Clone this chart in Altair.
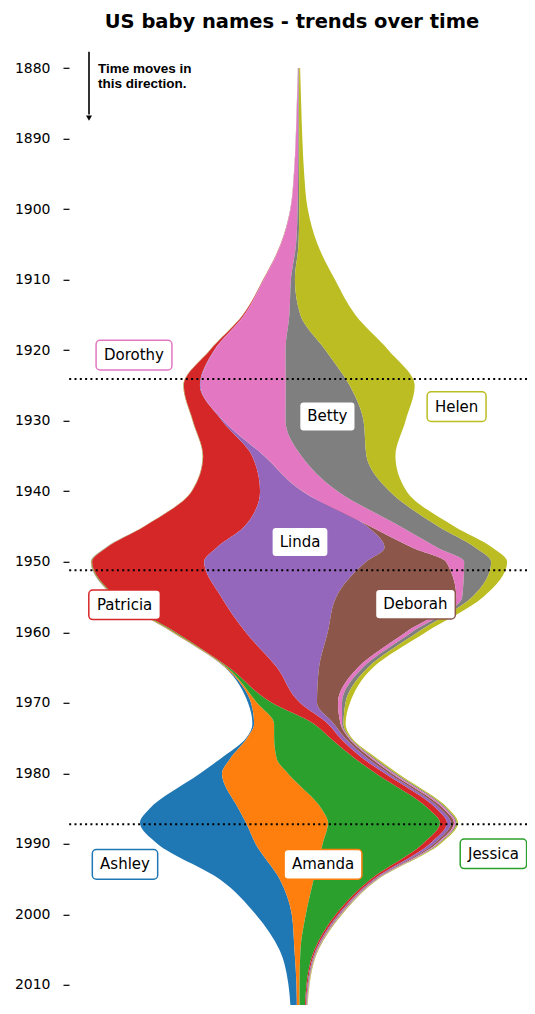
import altair as alt
import pandas as pd

# ---------------- data (thousands of births) ----------------
years = [1880, 1885, 1890, 1895, 1900, 1905, 1910, 1915, 1920, 1925, 1930, 1935,
         1940, 1945, 1948, 1950, 1955, 1960, 1965, 1970, 1973, 1975, 1978, 1980,
         1985, 1987, 1990, 1995, 2000, 2005, 2010, 2015]

names = ["Ashley", "Amanda", "Jessica", "Patricia", "Linda", "Deborah",
         "Dorothy", "Betty", "Helen"]
colors = ["#1f77b4", "#ff7f0e", "#2ca02c", "#d62728", "#9467bd", "#8c564b",
          "#e377c2", "#7f7f7f", "#bcbd22"]

ashley = [0, 0, 0, 0, 0, 0, 0, 0, 0, 0, 0, 0, 0, 0,
          0.15, 0.15, 0.25, 0.25, 0.35, 1.5, 0.85, 0.5, 5, 11,
          44.5, 53, 49, 30, 18, 7.5, 4, 3]
amanda = [0, 0, 0, 0, 0, 0.03, 0.05, 0.1, 0.15, 0.15, 0.15, 0.15, 0.15, 0.2,
          0.2, 0.25, 0.5, 0.75, 0.65, 3, 10, 13.5, 23.5, 33,
          41.5, 41, 33.5, 17, 7, 3, 1.5, 1.25]
jessica = [0.03, 0.05, 0.05, 0.05, 0.05, 0.05, 0.05, 0.1, 0.15, 0.15, 0.15, 0.15, 0.15, 0.2,
           0.2, 0.25, 0.5, 0.75, 1, 7.5, 20, 28, 39.5, 44,
           53.5, 56, 50, 28.5, 15, 7, 3.5, 2.5]
patricia = [0.03, 0.05, 0.05, 0.08, 0.1, 0.15, 0.25, 0.6, 2, 8, 14.5, 24.5, 34, 50,
            55, 56, 52, 35, 24, 14, 7, 5, 4, 4.5,
            4, 3.5, 3.5, 1.5, 1.25, 0.75, 0.5, 0.4]
linda = [0.03, 0.03, 0.03, 0.03, 0.03, 0.05, 0.05, 0.1, 0.2, 0.4, 0.75, 6, 21, 61.5,
         84, 81, 57.5, 41, 21, 8.5, 3, 2.5, 2.5, 2,
         2, 2, 2, 0.75, 0.6, 0.4, 0.3, 0.25]
deborah = [0, 0, 0, 0, 0, 0, 0, 0, 0, 0, 0, 0.15, 0.25, 1.5,
           14, 40, 60, 39, 19.5, 10.5, 3.25, 1.75, 1.75, 1.5,
           1.5, 1.5, 1.25, 0.5, 0.4, 0.25, 0.2, 0.15]
dorothy = [0.3, 0.7, 1.25, 2, 3.5, 7.5, 13.5, 22.5, 35.5, 42.5, 31, 18.5, 17.5, 15,
           12.5, 9, 3, 3, 2.5, 2, 0.75, 0.5, 0.9, 1,
           1, 0.75, 0.75, 0.35, 0.3, 0.2, 0.15, 0.15]
betty = [0.25, 0.25, 0.35, 0.5, 0.8, 1.25, 2, 5.5, 20, 32, 39, 32.5, 26, 19,
         19, 13.5, 5, 3, 2.5, 1.75, 0.75, 0.5, 0.9, 1,
         0.75, 0.6, 0.6, 0.3, 0.3, 0.2, 0.15, 0.15]
helen = [0.5, 1.1, 1.6, 2.5, 4.25, 9.5, 20, 27.5, 31.5, 32.5, 21, 14.5, 8.5, 8,
         8.5, 8, 5.5, 4, 2.5, 2.25, 1, 0.6, 1.1, 1,
         0.75, 0.65, 0.75, 0.35, 0.35, 0.25, 0.2, 0.15]

series = [ashley, amanda, jessica, patricia, linda, deborah, dorothy, betty, helen]

# label anchors (x in thousands from the centre line, y in years)
label_names = ["Dorothy", "Betty", "Helen", "Linda", "Patricia", "Deborah",
               "Ashley", "Amanda", "Jessica"]
label_x = [-82.5, 14.2, 78.8, 0.5, -87.2, 58.2, -87.0, 12.0, 97.2]
label_y = [1920.7, 1929.4, 1928.0, 1947.2, 1956.1, 1956.0, 1992.9, 1992.9, 1991.4]

marker_years = [1924.1, 1951.2, 1987.2]
note_lines = ["Time moves in", "this direction."]

# ---------------- layout constants ----------------
W, H = 458, 965.3
XDOM = [-115, 114]
YDOM = [1876, 2012.85]
px_x = W / (XDOM[1] - XDOM[0])
px_y = H / (YDOM[1] - YDOM[0])

rows = []
for k, (nm, vals) in enumerate(zip(names, series)):
    for yr, v in zip(years, vals):
        rows.append({"year": yr, "name": nm, "order": k, "value": v})
df = pd.DataFrame(rows)

xscale = alt.Scale(domain=XDOM, nice=False, zero=False)
yscale = alt.Scale(domain=YDOM, reverse=True, nice=False, zero=False)
cscale = alt.Scale(domain=names, range=colors)

yaxis = alt.Axis(values=list(range(1880, 2011, 10)), format="d", title=None,
                 domain=False, grid=False, ticks=True, tickSize=6, tickWidth=1.2,
                 tickColor="black", labelFont="DejaVu Sans", labelFontSize=14,
                 labelColor="black", labelPadding=13)

stream = alt.Chart(df).transform_stack(
    stack="value", groupby=["year"], as_=["s0", "s1"],
    sort=[alt.SortField(field="order", order="ascending")], offset="zero"
).transform_joinaggregate(
    total="sum(value)", groupby=["year"]
).transform_calculate(
    lo="datum.s0 - datum.total / 2", hi="datum.s1 - datum.total / 2"
).mark_area(orient="horizontal", interpolate="monotone", clip=True).encode(
    y=alt.Y("year:Q", scale=yscale, axis=yaxis),
    x=alt.X("lo:Q", scale=xscale, axis=None, stack=None),
    x2="hi:Q",
    color=alt.Color("name:N", scale=cscale, legend=None),
    order=alt.Order("order:Q"),
)

rules = alt.Chart(pd.DataFrame({"yr": marker_years})).mark_rule(
    color="black", strokeWidth=2, strokeDash=[2, 3.3]
).encode(y=alt.Y("yr:Q", scale=yscale))

# arrow annotation
arrow_df = pd.DataFrame({"x": [-105.0], "y0": [1877.7], "y1": [1886.6], "yh": [1887.1]})
arrow_line = alt.Chart(arrow_df).mark_rule(color="black", strokeWidth=1.6).encode(
    x=alt.X("x:Q", scale=xscale), y=alt.Y("y0:Q", scale=yscale), y2="y1:Q")
arrow_head = alt.Chart(arrow_df).mark_point(
    shape="triangle-down", filled=True, color="black", size=36, opacity=1
).encode(x=alt.X("x:Q", scale=xscale), y=alt.Y("yh:Q", scale=yscale))

note_df = pd.DataFrame({"t": note_lines, "x": [-100.5, -100.5], "y": [1880.71, 1882.85]})
note = alt.Chart(note_df).mark_text(
    align="left", baseline="alphabetic", font="Liberation Sans", fontWeight="bold",
    fontSize=13.5, color="black"
).encode(x=alt.X("x:Q", scale=xscale), y=alt.Y("y:Q", scale=yscale), text="t:N")

# label boxes sized from text length (DejaVu Sans advance widths, em units)
adv = {"A": .684, "B": .686, "D": .770, "H": .752, "J": .295, "L": .557, "P": .603,
       "a": .613, "b": .635, "c": .550, "d": .635, "e": .615, "h": .634, "i": .278,
       "l": .278, "m": .974, "n": .634, "o": .612, "r": .411, "s": .521, "t": .392,
       "y": .592}
FS = 15
lab = pd.DataFrame({"name": label_names, "x": label_x, "y": label_y})
lab["wpx"] = [sum(adv.get(c, .6) for c in s) * FS + 15.5 for s in label_names]
lab["x0"] = lab["x"] - lab["wpx"] / 2 / px_x
lab["x1"] = lab["x"] + lab["wpx"] / 2 / px_x
lab["y0"] = lab["y"] - 14.8 / px_y
lab["y1"] = lab["y"] + 14.8 / px_y

boxes = alt.Chart(lab).mark_rect(cornerRadius=4, fill="white", strokeWidth=1.5).encode(
    x=alt.X("x0:Q", scale=xscale), x2="x1:Q",
    y=alt.Y("y0:Q", scale=yscale), y2="y1:Q",
    stroke=alt.Stroke("name:N", scale=cscale, legend=None),
)
texts = alt.Chart(lab).mark_text(
    font="DejaVu Sans", fontSize=FS, color="black", align="center", baseline="middle"
).encode(x=alt.X("x:Q", scale=xscale), y=alt.Y("y:Q", scale=yscale), text="name:N")

chart = alt.layer(stream, rules, arrow_line, arrow_head, note, boxes, texts).properties(
    width=W, height=H, background="white",
    title=alt.TitleParams("US baby names - trends over time", font="DejaVu Sans",
                          fontSize=19.5, fontWeight="bold", color="black",
                          anchor="middle", offset=7, dx=-6),
    autosize=alt.AutoSizeParams(type="none"),
    padding={"left": 61, "top": 31.8, "right": 0, "bottom": 0},
).configure_view(stroke=None)

chart.save("out.html", embed_options={"renderer": "svg", "actions": False})
